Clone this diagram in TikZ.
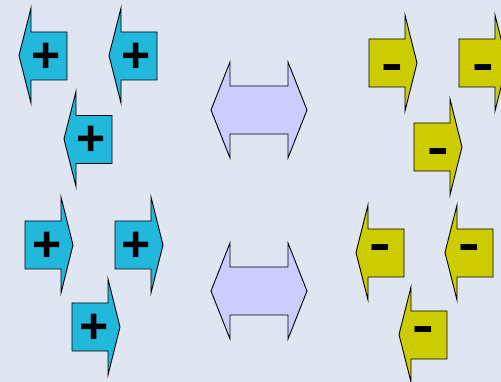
\documentclass[tikz,border=0pt]{standalone}
\usepackage{fontspec}
\setmainfont{Liberation Sans}
\definecolor{bgc}{HTML}{DFE6F1}
\definecolor{cyanA}{HTML}{22B8DC}
\definecolor{yelA}{HTML}{CCCC00}
\definecolor{lavA}{HTML}{CCCCFF}
\newcommand{\mysign}{\scalebox{1.3}[1]{-}}
\tikzset{
  x=1pt,y=-1pt,
  shp/.style={draw=black,line width=0.9pt,line join=miter},
  sign/.style={inner sep=0pt,font=\fontsize{50}{50}\selectfont\bfseries},
  plussign/.style={sign,yshift=-1.5pt},
  minussign/.style={sign,yshift=-5pt},
  larr/.pic={\path[shp,pic actions] (0,0) -- (12,-47.5) -- (12,-23.5) -- (48,-23.5) -- (48,24.5) -- (12,24.5) -- (12,47.5) -- cycle;},
  rarr/.pic={\path[shp,pic actions] (0,0) -- (-12,-48) -- (-12,-24) -- (-48,-24) -- (-48,24) -- (-12,24) -- (-12,48) -- cycle;},
  darr/.pic={\path[shp,pic actions] (-48,0) -- (-29,-48) -- (-29,-24) -- (29,-24) -- (29,-48) -- (48,0) -- (29,48) -- (29,24) -- (-29,24) -- (-29,48) -- cycle;}
}
\begin{document}
\begin{tikzpicture}
\fill[bgc] (0,0) rectangle (501,382);
\useasboundingbox (0,0) rectangle (501,382);
\clip (0,0) rectangle (501,382);
% top-left: cyan arrows pointing left
\pic[fill=cyanA] at (19,55.5) {larr};
\pic[fill=cyanA] at (109,55.5) {larr};
\pic[fill=cyanA] at (64,139) {larr};
\node[plussign] (p1) at (46,56) {+};
\node[plussign] (p2) at (136,56) {+};
\node[plussign] (p3) at (91,139) {+};
% bottom-left: cyan arrows pointing right
\pic[fill=cyanA] at (73,245) {rarr};
\pic[fill=cyanA] at (163,245) {rarr};
\pic[fill=cyanA] at (120,327) {rarr};
\node[plussign] (p4) at (47,245) {+};
\node[plussign] (p5) at (136,245) {+};
\node[plussign] (p6) at (94,327) {+};
% top-right: yellow arrows pointing right
\pic[fill=yelA] at (417,63) {rarr};
\pic[fill=yelA] at (507,63) {rarr};
\pic[fill=yelA] at (462,147) {rarr};
\node[minussign] (m1) at (392.5,67.5) {\mysign};
\node[minussign] (m2) at (483,67.5) {\mysign};
\node[minussign] (m3) at (438,151.5) {\mysign};
% bottom-right: yellow arrows pointing left
\pic[fill=yelA] at (356,252.5) {larr};
\pic[fill=yelA] at (445,252.5) {larr};
\pic[fill=yelA] at (399,334.5) {larr};
\node[minussign] (m4) at (380,248) {\mysign};
\node[minussign] (m5) at (469,248) {\mysign};
\node[minussign] (m6) at (423,330) {\mysign};
% double arrows
\pic[fill=lavA] at (259,110) {darr};
\pic[fill=lavA] at (259,291) {darr};
\end{tikzpicture}
\end{document}
